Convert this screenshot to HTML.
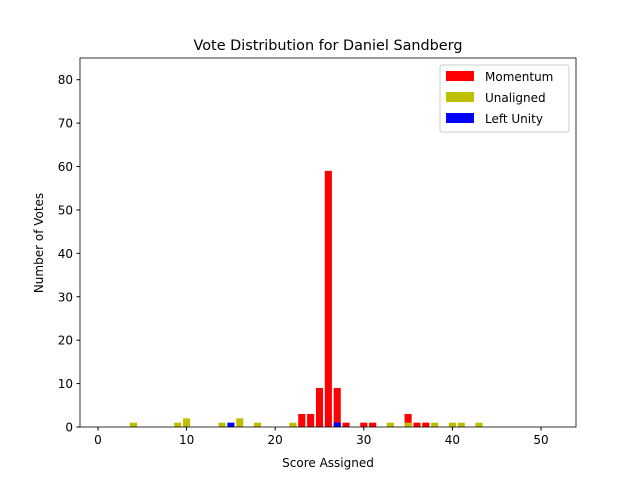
<!DOCTYPE html>
<html><head><meta charset="utf-8"><style>
body{margin:0;background:#fff;font-family:"Liberation Sans","DejaVu Sans",sans-serif}
svg text{font-family:"DejaVu Sans","Liberation Sans",sans-serif;fill:#000}
</style></head><body>
<svg id="chart" width="640" height="480">
<rect width="640" height="480" fill="#fff"/>
<text x="328" y="50" font-size="14.4" text-anchor="middle">Vote Distribution for Daniel Sandberg</text>
<g id="bars"></g>
<g id="axes"></g>
<text x="328" y="467" font-size="12" text-anchor="middle">Score Assigned</text>
<text transform="translate(43,243) rotate(-90)" font-size="12" text-anchor="middle">Number of Votes</text>
<g>
<rect x="440" y="65" width="129" height="67" fill="#fff" stroke="#ccc" rx="2"/>
<g><rect x="446" y="71" width="28" height="10" fill="#ff0000"/><text x="485" y="81" font-size="12">Momentum</text></g>
<g><rect x="446" y="92" width="28" height="10" fill="#bfbf00"/><text x="485" y="102" font-size="12">Unaligned</text></g>
<g><rect x="446" y="113" width="28" height="10" fill="#0000ff"/><text x="485" y="123" font-size="12">Left Unity</text></g>
</g>
</svg>
<script>
const momentumScores=[23,24,25,26,27,28,30,31,35,36,37];
const momentumVotes=[3,3,9,59,9,1,1,1,3,1,1];
const unalignedScores=[4,9,10,14,16,18,22,33,35,38,40,41,43];
const unalignedVotes=[1,1,2,1,2,1,1,1,1,1,1,1,1];
const leftUnityScores=[15,27];
const leftUnityVotes=[1,1];
const xTicks=[0,10,20,30,40,50];
const yTicks=[0,10,20,30,40,50,60,70,80];
const L=80,R=576,T=58,B=427,xmin=-2.03,xmax=53.95,ymax=85;
const X=v=>L+(v-xmin)/(xmax-xmin)*(R-L);
const Y=v=>B-v/ymax*(B-T);
const NS="http://www.w3.org/2000/svg";
const bars=document.getElementById('bars'),axes=document.getElementById('axes');
function series(xs,ys,color,name){
 xs.forEach((s,i)=>{
  const r=document.createElementNS(NS,'rect');
  r.setAttribute('x',X(s-0.4));r.setAttribute('width',X(0.8)-X(0));
  r.setAttribute('y',Y(ys[i]));r.setAttribute('height',B-Y(ys[i]));
  r.setAttribute('fill',color);
  
  
  bars.appendChild(r);
 });
}
series(momentumScores,momentumVotes,'#ff0000','momentum');
series(unalignedScores,unalignedVotes,'#bfbf00','unaligned');
series(leftUnityScores,leftUnityVotes,'#0000ff','left-unity');
const frame=document.createElementNS(NS,'rect');
frame.setAttribute('x',L);frame.setAttribute('y',T);frame.setAttribute('width',R-L);frame.setAttribute('height',B-T);
frame.setAttribute('fill','none');frame.setAttribute('stroke','#000');frame.setAttribute('stroke-width','0.8');


axes.appendChild(frame);
xTicks.forEach(t=>{
 const l=document.createElementNS(NS,'line');
 l.setAttribute('x1',X(t));l.setAttribute('x2',X(t));l.setAttribute('y1',B);l.setAttribute('y2',B+3.5);l.setAttribute('stroke','#000');
 
 
 axes.appendChild(l);
 const tx=document.createElementNS(NS,'text');
 tx.setAttribute('x',X(t));tx.setAttribute('y',B+17);tx.setAttribute('font-size','12');tx.setAttribute('text-anchor','middle');tx.textContent=t;
 
 
 axes.appendChild(tx);
});
yTicks.forEach(t=>{
 const l=document.createElementNS(NS,'line');
 l.setAttribute('x1',L-3.5);l.setAttribute('x2',L);l.setAttribute('y1',Y(t));l.setAttribute('y2',Y(t));l.setAttribute('stroke','#000');
 
 
 axes.appendChild(l);
 const tx=document.createElementNS(NS,'text');
 tx.setAttribute('x',L-7);tx.setAttribute('y',Y(t)+4.5);tx.setAttribute('font-size','12');tx.setAttribute('text-anchor','end');tx.textContent=t;
 
 
 axes.appendChild(tx);
});
</script>
</body></html>
